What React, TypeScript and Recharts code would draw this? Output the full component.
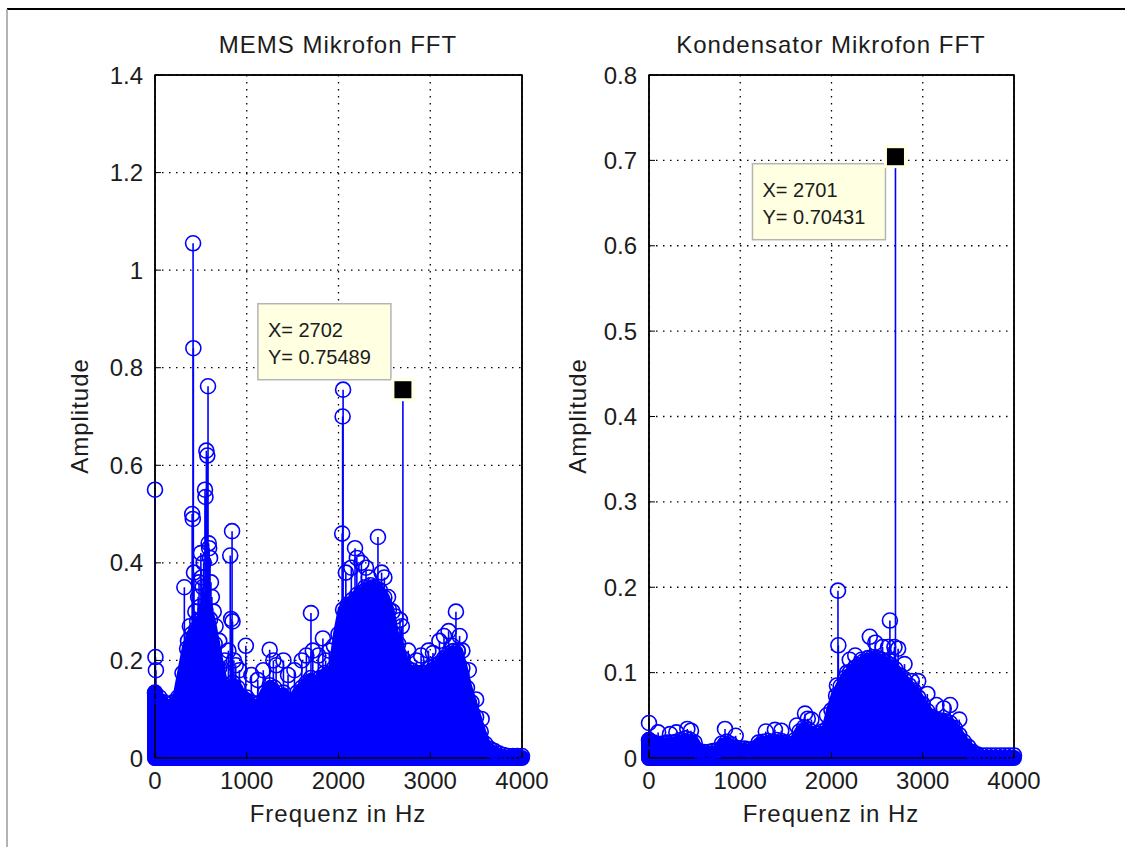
import React from 'react';
import {
  ComposedChart,
  Area,
  Scatter,
  XAxis,
  YAxis,
  CartesianGrid,
  ReferenceLine,
  ReferenceDot,
  ReferenceArea,
} from 'recharts';

// ---------- data ----------
const freqHz = [
  0, 50, 100, 150, 200, 250, 300, 350, 400, 450, 500, 550, 600, 650, 700, 750, 800, 850, 900, 950,
  1000, 1050, 1100, 1150, 1200, 1250, 1300, 1350, 1400, 1450, 1500, 1550, 1600, 1650, 1700, 1750,
  1800, 1850, 1900, 1950, 2000, 2050, 2100, 2150, 2200, 2250, 2300, 2350, 2400, 2450, 2500, 2550,
  2600, 2650, 2700, 2750, 2800, 2850, 2900, 2950, 3000, 3050, 3100, 3150, 3200, 3250, 3300, 3350,
  3400, 3450, 3500, 3550, 3600, 3650, 3700, 3750, 3800, 3850, 3900, 3950, 4000,
];

// dense FFT mass (upper edge of the filled region), MEMS microphone
const memsEnvelope = [
  0.134, 0.124, 0.114, 0.104, 0.114, 0.124, 0.174, 0.224, 0.254, 0.264, 0.284, 0.304, 0.284, 0.234,
  0.184, 0.144, 0.134, 0.154, 0.144, 0.124, 0.124, 0.114, 0.104, 0.114, 0.134, 0.149, 0.144, 0.124,
  0.134, 0.114, 0.114, 0.134, 0.144, 0.154, 0.164, 0.154, 0.164, 0.174, 0.164, 0.184, 0.254, 0.304,
  0.314, 0.324, 0.334, 0.339, 0.344, 0.354, 0.349, 0.344, 0.329, 0.304, 0.254, 0.234, 0.204, 0.184,
  0.179, 0.174, 0.174, 0.174, 0.184, 0.189, 0.194, 0.204, 0.214, 0.219, 0.219, 0.184, 0.144, 0.114,
  0.084, 0.054, 0.029, 0.019, 0.014, 0.009, 0.006, 0.004, 0.004, 0.004, 0.004,
];

// dense FFT mass, condenser microphone
const kondEnvelope = [
  0.021, 0.018, 0.016, 0.017, 0.018, 0.018, 0.019, 0.021, 0.023, 0.021, 0.018, 0.008, 0.007, 0.007,
  0.008, 0.009, 0.017, 0.019, 0.016, 0.012, 0.011, 0.011, 0.01, 0.011, 0.018, 0.019, 0.02, 0.019,
  0.021, 0.02, 0.018, 0.015, 0.021, 0.031, 0.036, 0.033, 0.026, 0.028, 0.031, 0.034, 0.056, 0.073,
  0.084, 0.094, 0.1, 0.105, 0.109, 0.113, 0.117, 0.118, 0.117, 0.115, 0.112, 0.109, 0.104, 0.097,
  0.091, 0.085, 0.079, 0.071, 0.063, 0.055, 0.048, 0.045, 0.044, 0.043, 0.041, 0.035, 0.027, 0.019,
  0.013, 0.007, 0.004, 0.003, 0.003, 0.003, 0.003, 0.003, 0.003, 0.003, 0.003,
];

// stems standing out of the mass (frequency in Hz, amplitude)
const memsPeakFreq = [
  0, 5, 10, 320, 360, 380, 405, 412, 415, 418, 425, 440, 460, 470, 480, 490, 500, 510, 520, 530,
  545, 550, 560, 570, 578, 585, 590, 600, 610, 620, 640, 660, 700, 760, 800, 820, 830, 840, 845,
  860, 880, 920, 990, 1050, 1120, 1180, 1250, 1290, 1320, 1400, 1450, 1520, 1600, 1650, 1700,
  1720, 1780, 1830, 1860, 1900, 1950, 2040, 2045, 2050, 2080, 2140, 2180, 2200, 2250, 2290, 2300,
  2330, 2380, 2430, 2470, 2500, 2540, 2590, 2620, 2670, 2690, 2760, 2850, 2900, 2980, 3030, 3100,
  3150, 3200, 3240, 3280, 3300, 3320, 3350, 3420, 3500, 3560,
];
const memsPeakAmp = [
  0.55, 0.207, 0.18, 0.35, 0.24, 0.27, 0.5, 0.49, 1.055, 0.84, 0.38, 0.3, 0.28, 0.33, 0.36, 0.31,
  0.42, 0.37, 0.35, 0.4, 0.55, 0.535, 0.63, 0.62, 0.762, 0.44, 0.43, 0.41, 0.36, 0.33, 0.3, 0.27,
  0.24, 0.2, 0.22, 0.415, 0.285, 0.465, 0.28, 0.2, 0.19, 0.18, 0.23, 0.17, 0.16, 0.18, 0.222, 0.2,
  0.19, 0.2, 0.17, 0.18, 0.2, 0.21, 0.297, 0.22, 0.21, 0.245, 0.2, 0.22, 0.23, 0.46, 0.7, 0.755,
  0.38, 0.39, 0.43, 0.41, 0.4, 0.35, 0.39, 0.37, 0.35, 0.453, 0.38, 0.37, 0.33, 0.3, 0.29, 0.283,
  0.27, 0.22, 0.2, 0.21, 0.22, 0.215, 0.24, 0.25, 0.26, 0.23, 0.3, 0.22, 0.25, 0.22, 0.18, 0.12,
  0.08,
];

const kondPeakFreq = [
  0, 100, 230, 300, 420, 460, 833, 950, 1280, 1380, 1450, 1620, 1710, 1740, 1780, 1950, 2060, 2071,
  2075, 2170, 2200, 2260, 2330, 2420, 2480, 2560, 2620, 2640, 2690, 2730, 2800, 2880, 2950, 3050,
  3150, 3230, 3300, 3400,
];
const kondPeakAmp = [
  0.041, 0.03, 0.028, 0.03, 0.034, 0.032, 0.034, 0.026, 0.031, 0.033, 0.032, 0.038, 0.052, 0.046,
  0.045, 0.05, 0.085, 0.196, 0.132, 0.1, 0.115, 0.12, 0.115, 0.142, 0.135, 0.13, 0.13, 0.161, 0.13,
  0.128, 0.11, 0.09, 0.09, 0.075, 0.062, 0.058, 0.062, 0.045,
];

const xTicks = [0, 1000, 2000, 3000, 4000];
const memsYTicks = [0, 0.2, 0.4, 0.6, 0.8, 1, 1.2, 1.4];
const kondYTicks = [0, 0.1, 0.2, 0.3, 0.4, 0.5, 0.6, 0.7, 0.8];

const memsTip = { x: 2702, y: 0.75489 };
const kondTip = { x: 2701, y: 0.70431 };

// ---------- styling ----------
const BLUE = '#0000ff';
const FONT = '"Liberation Sans", Arial, Helvetica, sans-serif';
const TEXT = '#1c1c1c';

const Ring = (props: any) => {
  const { cx, cy } = props;
  if (cx == null || cy == null) return <g />;
  return <circle cx={cx} cy={cy} r={7.5} fill="none" stroke={BLUE} strokeWidth={1.6} />;
};

const makeTip = (tip: { x: number; y: number }, dx: number, dy: number) => (props: any) => {
  const { cx, cy } = props;
  if (cx == null || cy == null) return <g />;
  const bx = cx + dx;
  const by = cy + dy;
  return (
    <g>
      <rect x={bx} y={by} width={133} height={76} fill="#ffffe1" stroke="#b4b4b4" strokeWidth={1.5} />
      <text x={bx + 10} y={by + 33} fontSize={20} fontFamily={FONT} fill={TEXT}>
        {`X= ${tip.x}`}
      </text>
      <text x={bx + 10} y={by + 60} fontSize={20} fontFamily={FONT} fill={TEXT}>
        {`Y= ${tip.y}`}
      </text>
      <rect x={cx - 11.5} y={cy - 11.5} width={23} height={23} fill="#ffffe1" />
      <rect x={cx - 8.5} y={cy - 8.5} width={17} height={17} fill="#000" />
    </g>
  );
};

const EmptyTick = () => <g />;

type PanelProps = {
  left: number;
  width: number;
  margin: { top: number; right: number; bottom: number; left: number };
  env: number[];
  peakF: number[];
  peakA: number[];
  yTicks: number[];
  tip: { x: number; y: number };
  tipDx: number;
  tipDy: number;
};

const Panel = ({ left, width, margin, env, peakF, peakA, yTicks, tip, tipDx, tipDy }: PanelProps) => {
  const rows = freqHz.map((f, i) => ({ f, a: env[i] }));
  const peaks = peakF.map((f, i) => ({ f, a: peakA[i] }));
  const yMax = yTicks[yTicks.length - 1];
  const xMin = xTicks[0];
  const xMax = xTicks[xTicks.length - 1];
  const tickStyle = { fontSize: 24, fill: TEXT, fontFamily: FONT };
  return (
    <div style={{ position: 'absolute', left, top: 0 }}>
      <ComposedChart width={width} height={847} data={rows} margin={margin}>
        <CartesianGrid stroke="#000" strokeWidth={1.3} strokeDasharray="1.5 5.5" />
        <XAxis
          dataKey="f"
          type="number"
          domain={[xMin, xMax]}
          ticks={xTicks}
          interval={0}
          tickSize={-6}
          tickMargin={20}
          height={40}
          tick={tickStyle}
          axisLine={{ stroke: '#000', strokeWidth: 1.5 }}
          tickLine={{ stroke: '#000' }}
        />
        <XAxis
          xAxisId="top"
          orientation="top"
          type="number"
          domain={[xMin, xMax]}
          ticks={xTicks}
          interval={0}
          tickSize={-6}
          height={1}
          tick={EmptyTick}
          axisLine={{ stroke: '#000', strokeWidth: 1.5 }}
          tickLine={{ stroke: '#000' }}
        />
        <YAxis
          type="number"
          domain={[0, yMax]}
          ticks={yTicks}
          interval={0}
          tickSize={-6}
          tickMargin={18}
          width={60}
          tick={tickStyle}
          axisLine={{ stroke: '#000', strokeWidth: 1.5 }}
          tickLine={{ stroke: '#000' }}
        />
        <YAxis
          yAxisId="right"
          orientation="right"
          type="number"
          domain={[0, yMax]}
          ticks={yTicks}
          interval={0}
          tickSize={-6}
          width={1}
          tick={EmptyTick}
          axisLine={{ stroke: '#000', strokeWidth: 1.5 }}
          tickLine={{ stroke: '#000' }}
        />
        <Area
          dataKey="a"
          type="linear"
          fill={BLUE}
          fillOpacity={1}
          stroke={BLUE}
          strokeWidth={11}
          strokeLinejoin="round"
          isAnimationActive={false}
        />
        <ReferenceLine
          segment={[{ x: xMin, y: 0 }, { x: xMax, y: 0 }]}
          stroke={BLUE}
          strokeWidth={16}
          strokeLinecap="round"
          ifOverflow="visible"
        />
        <ReferenceLine
          segment={[{ x: xMin, y: 0 }, { x: xMin, y: env[0] }]}
          stroke={BLUE}
          strokeWidth={16}
          strokeLinecap="round"
          ifOverflow="visible"
        />
        {peaks.map((p, i) => (
          <ReferenceLine
            key={`s${i}`}
            segment={[{ x: p.f, y: 0 }, { x: p.f, y: p.a }]}
            stroke={BLUE}
            strokeWidth={1.6}
          />
        ))}
        <ReferenceLine
          segment={[{ x: tip.x, y: 0 }, { x: tip.x, y: tip.y }]}
          stroke={BLUE}
          strokeWidth={1.6}
        />
        <Scatter data={rows} dataKey="a" shape={Ring} isAnimationActive={false} />
        <Scatter data={peaks} dataKey="a" shape={Ring} isAnimationActive={false} />
        <ReferenceArea
          x1={xMin}
          x2={xMax}
          y1={0}
          y2={yMax}
          fill="none"
          fillOpacity={0}
          stroke="#000"
          strokeWidth={1.5}
          ifOverflow="visible"
        />
        <ReferenceDot
          x={tip.x}
          y={tip.y}
          r={8}
          ifOverflow="visible"
          shape={makeTip(tip, tipDx, tipDy)}
        />
      </ComposedChart>
    </div>
  );
};

export default function App() {
  const labelStyle = { fontSize: 24, letterSpacing: 1, fill: TEXT, fontFamily: FONT } as const;
  return (
    <div
      style={{
        position: 'absolute',
        left: 0,
        top: 0,
        width: 1125,
        height: 847,
        background: '#fff',
        overflow: 'hidden',
      }}
    >
      <Panel
        left={0}
        width={560}
        margin={{ top: 74, right: 37, bottom: 49, left: 95 }}
        env={memsEnvelope}
        peakF={memsPeakFreq}
        peakA={memsPeakAmp}
        yTicks={memsYTicks}
        tip={memsTip}
        tipDx={-145}
        tipDy={-86}
      />
      <Panel
        left={560}
        width={565}
        margin={{ top: 74, right: 110, bottom: 49, left: 29 }}
        env={kondEnvelope}
        peakF={kondPeakFreq}
        peakA={kondPeakAmp}
        yTicks={kondYTicks}
        tip={kondTip}
        tipDx={-143}
        tipDy={7}
      />
      <svg
        width={1125}
        height={847}
        style={{ position: 'absolute', left: 0, top: 0, pointerEvents: 'none' }}
      >
        <line x1={7} y1={9} x2={1125} y2={9} stroke="#000" strokeWidth={2} />
        <line x1={7} y1={9} x2={7} y2={847} stroke="#9a9a9a" strokeWidth={1.5} />
        <text x={338} y={53} textAnchor="middle" {...labelStyle}>
          MEMS Mikrofon FFT
        </text>
        <text x={831} y={53} textAnchor="middle" {...labelStyle}>
          Kondensator Mikrofon FFT
        </text>
        <text x={338} y={822} textAnchor="middle" {...labelStyle}>
          Frequenz in Hz
        </text>
        <text x={831} y={822} textAnchor="middle" {...labelStyle}>
          Frequenz in Hz
        </text>
        <text transform="translate(88 416) rotate(-90)" textAnchor="middle" {...labelStyle}>
          Amplitude
        </text>
        <text transform="translate(586 416) rotate(-90)" textAnchor="middle" {...labelStyle}>
          Amplitude
        </text>
      </svg>
    </div>
  );
}
